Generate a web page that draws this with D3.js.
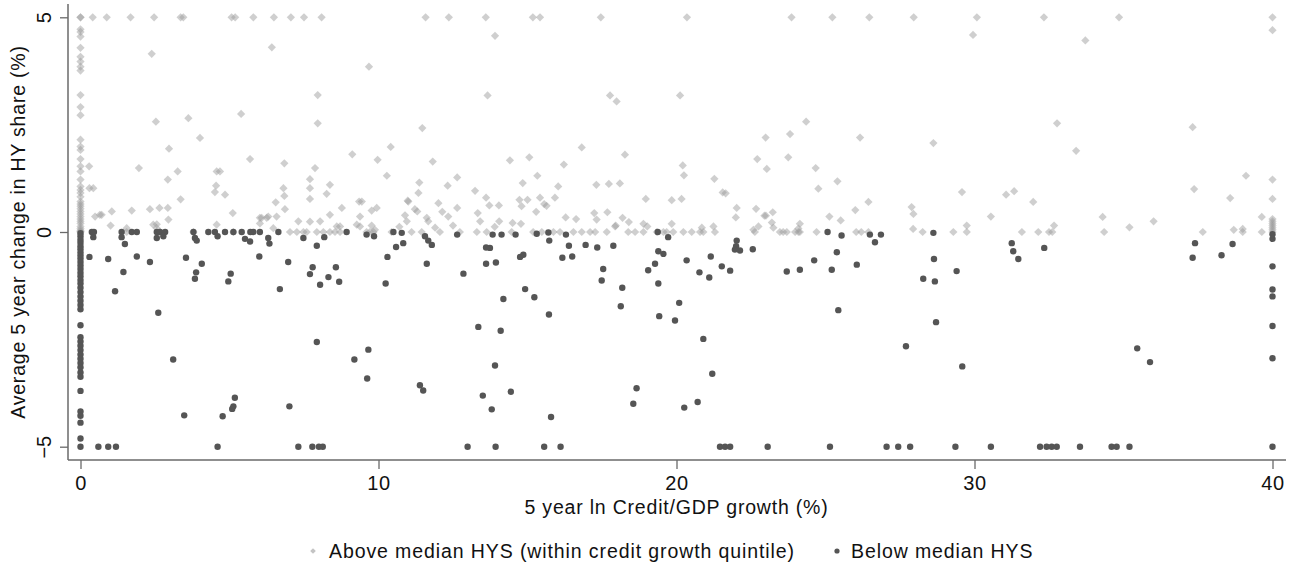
<!DOCTYPE html>
<html>
<head>
<meta charset="utf-8">
<script src="https://cdn.jsdelivr.net/npm/d3@7"></script>
<style>
  body { margin: 0; background: #fff; }
  text { font-family: "Liberation Sans", Arial, sans-serif; fill: #111; }
</style>
</head>
<body>
<script>
// Above median HYS (within credit growth quintile): [credit growth, change in HY share]
var abovePts = [
  // x = 0 column
  [0,5],[0,5],[0,4.72],[0,4.66],[0,4.55],[0,4.29],[0,4.08],[0,3.97],[0,3.85],[0,3.76],[0,3.19],[0,2.91],
  [0,2.72],[0,2.15],[0,1.99],[0,1.91],[0,1.7],[0,1.53],[0,1.41],[0,1.22],[0,1.06],[0,0.98],[0,0.91],
  [0,0.82],[0,0.71],[0,0.65],[0,0.6],[0,0.54],[0,0.48],[0,0.42],[0,0.36],[0,0.3],[0,0.25],[0,0.2],
  [0,0.13],[0,0.08],[0,0.04],[0,0.01],[0,0],
  // top row (capped at 5)
  [0.41,5],[0.88,5],[1.68,5],[2.47,5],[3.36,5],[3.45,5],[5.07,5],[5.19,5],[5.8,5],[6.49,5],[7.06,5],
  [7.5,5],[8.09,5],[11.58,5],[12.36,5],[13.6,5],[15.18,5],[15.42,5],[17.46,5],[20.35,5],[23.86,5],
  [25.23,5],[26.47,5],[27.96,5],[30.08,5],[32.33,5],[34.85,5],[40,5],
  // 0 - 11
  [2.39,4.15],[6.42,4.3],[9.68,3.85],[7.96,3.19],[7.96,2.53],[5.39,2.75],[2.53,2.57],[3.62,2.65],
  [4.01,2.19],[10.41,1.98],[9.12,1.81],[2.97,1.94],[5.69,1.7],[6.84,1.6],[9.97,1.68],[0.29,1.53],
  [1.96,1.49],[3.26,1.41],[4.57,1.41],[4.68,1.41],[7.87,1.49],[2.93,1.22],[7.7,1.23],[10.28,1.31],
  [4.55,1.08],[0.3,1.02],[0.43,1.02],[6.81,1.02],[7.7,1.02],[8.37,1.1],[4.51,0.93],[4.85,0.87],
  [6.84,0.84],[8.26,0.89],[3.36,0.76],[7.7,0.77],[9.35,0.71],[9.44,0.71],[6.55,0.69],[9.94,0.56],
  [9.77,0.5],[1.05,0.48],[1.72,0.5],[2.33,0.53],[2.65,0.56],[2.93,0.56],[0.49,0.36],[0.65,0.4],
  [0.71,0.4],[5.11,0.44],[8.37,0.4],[8.77,0.56],[9.38,0.36],[6.86,0.53],[6.02,0.33],[6.25,0.33],
  [6.08,0.33],[6.3,0.36],[6.58,0.36],[1.01,0.15],[2.95,0.29],[2.56,0.18],[1.55,0.09],[4.57,0.17],
  [2.44,0.17],[2.56,0.09],[7.31,0.25],[8.04,0.25],[7.7,0.24],[8.6,0.13],[8.71,0.13],[9.27,0.17],
  [9.38,0.13],[9.77,0.15],[9.88,0.05],[6.47,0.09],[6.02,0.2],
  [1.55,0],[2.67,0],[3.79,0],[5.13,0],[7.03,0],[7.26,0],[7.48,0],[7.59,0],[7.93,0],[8.15,0],[8.37,0],
  [8.54,0],[8.71,0],[9.6,0],[9.71,0],[9.83,0],[10.44,0],
  // 11 - 26
  [13.91,4.57],[13.66,3.18],[17.77,3.18],[17.99,3.04],[20.12,3.18],[11.47,2.42],[24.35,2.57],
  [23.81,2.28],[22.99,2.2],[23.75,1.74],[23.03,1.47],[22.71,1.7],[11.82,1.64],[16.82,1.97],
  [18.27,1.8],[20.21,1.55],[20.25,1.32],[24.67,1.49],[25.4,1.18],[24.76,1.01],[14.41,1.67],
  [15.06,1.74],[16.22,1.57],[11.37,1.15],[12.64,1.27],[12.32,1.08],[14.84,1.14],[15.33,1.31],
  [16.03,1.06],[17.31,1.1],[17.73,1.12],[18.1,1.13],[21.27,1.24],[21.55,0.92],[21.65,0.9],
  [22.02,0.56],[21.99,0.34],[18.97,0.77],[19.84,0.74],[20.17,0.77],[22.67,0.54],[23.23,0.46],
  [22.95,0.38],[25.13,0.36],[25.51,0.27],[11.0,0.71],[11.34,0.91],[12.01,0.67],[12.14,0.47],
  [12.34,0.36],[13.24,0.96],[13.33,0.44],[13.61,0.8],[13.72,0.62],[14.04,0.62],[14.73,0.75],
  [14.8,0.6],[15.0,0.75],[15.29,0.47],[15.42,0.8],[15.56,0.65],[15.64,0.61],[15.92,0.8],[16.28,0.34],
  [16.63,0.3],[17.24,0.44],[17.32,0.29],[17.68,0.46],[18.19,0.33],[18.4,0.23],[17.94,0.13],
  [18.89,0.19],[19.02,0.13],[19.84,0.19],[21.24,0.13],[22.58,0.05],[22.75,0.13],[24.14,0.19],
  [24.09,0.08],[10.98,0.73],[11.22,0.53],[11.3,0.48],[10.89,0.39],[10.95,0.25],[11.62,0.33],
  [11.67,0.25],[12.64,0.56],[13.41,0.25],[14.05,0.25],[14.5,0.21],[14.78,0.19],[17.96,0.15],
  [23.0,0.38],[23.2,0.22],[23.25,0.1],[20.85,0.1],[10.7,0.12],[11.9,0.1],[12.5,0.15],[13.9,0.12],
  [11.11,0],[11.45,0],[12.06,0],[12.73,0],[13.3,0],[13.63,0],[14.47,0],[15.19,0],[15.48,0],
  [15.87,0],[16.09,0],[16.54,0],[16.82,0],[17.1,0],[17.27,0],[17.66,0],[18.38,0],[18.61,0],
  [18.89,0],[19.34,0],[19.56,0],[19.67,0],[19.89,0],[20.23,0],[20.51,0],[20.79,0],[20.9,0],
  [21.29,0],[22.63,0],[23.47,0],[23.58,0],[23.7,0],[23.98,0],[24.09,0],[24.14,0],[24.7,0],
  // 26 - 40
  [29.95,4.59],[33.72,4.46],[26.16,2.2],[28.62,2.07],[32.77,2.53],[33.41,1.89],[37.32,2.44],
  [40,4.7],[39.11,1.31],[40,1.22],[40,0.77],[37.37,1.0],[38.58,0.79],[29.58,0.93],[31.06,0.87],
  [31.33,0.95],[31.97,0.7],[26.44,0.7],[26.0,0.51],[27.89,0.58],[27.95,0.42],[30.55,0.36],
  [29.74,0.15],[32.67,0.15],[34.3,0.35],[35.2,0.11],[36.01,0.25],[39.64,0.35],[40,0.3],[40,0.25],
  [40,0.2],[40,0.15],[40,0.1],[40,0.05],[38.7,0.05],[39.0,0.07],[27.94,0.07],
  [26.03,0],[26.2,0],[26.44,0],[28.26,0],[29.29,0],[29.74,0],[31.59,0],[32.14,0],[32.5,0],
  [32.61,0],[34.35,0],[37.66,0],[39.0,0],[39.64,0],[40,0]
];

// Below median HYS
var belowPts = [
  // x = 0 column
  [0,-0.03],[0,-0.1],[0,-0.18],[0,-0.25],[0,-0.33],[0,-0.4],[0,-0.48],[0,-0.55],[0,-0.62],[0,-0.7],
  [0,-0.78],[0,-0.86],[0,-0.95],[0,-1.03],[0,-1.12],[0,-1.2],[0,-1.3],[0,-1.4],[0,-1.5],[0,-1.6],
  [0,-1.7],[0,-1.8],[0,-2.17],[0,-2.45],[0,-2.55],[0,-2.65],[0,-2.75],[0,-2.85],[0,-2.95],[0,-3.05],
  [0,-3.15],[0,-3.27],[0,-3.37],[0,-3.7],[0,-4.18],[0,-4.28],[0,-4.44],[0,-4.81],[0,-5],
  // 0 - 11
  [0.3,-0.58],[0.93,-0.63],[1.16,-1.38],[1.44,-0.93],[1.89,-0.57],[2.33,-0.7],[2.61,-1.88],
  [3.11,-2.97],[3.48,-4.27],[3.54,-0.6],[3.84,-1.09],[3.88,-0.94],[4.07,-0.74],[4.77,-4.29],
  [4.96,-1.15],[5.04,-0.97],[5.09,-4.12],[5.13,-4.06],[5.18,-3.86],[6.0,-0.57],[6.69,-1.33],
  [6.97,-0.7],[7.01,-4.06],[7.7,-0.98],[7.79,-0.82],[7.93,-2.56],[8.04,-1.23],[8.32,-1.05],
  [8.57,-0.82],[8.68,-1.16],[9.19,-2.97],[9.66,-2.74],[9.62,-3.41],[10.24,-1.2],[10.3,-0.58],
  [0.6,-5],[0.93,-5],[1.19,-5],[4.6,-5],[7.31,-5],[7.78,-5],[8.0,-5],[8.13,-5],
  [0.38,0],[0.45,0],[1.38,0],[1.72,0],[1.89,0],[2.56,0],[2.67,0],[2.84,0],[3.79,0],[4.29,0],
  [4.51,0],[4.85,0],[5.13,0],[5.41,0],[5.8,0],[6.02,0],[6.64,0],[8.93,0],[0.43,-0.12],[1.38,-0.12],
  [2.56,-0.14],[2.78,-0.1],[3.84,-0.14],[1.49,-0.28],[5.52,-0.16],[5.69,-0.22],[6.3,-0.14],
  [6.34,-0.27],[7.48,-0.14],[7.93,-0.32],[8.18,-0.12],[9.6,-0.06],[9.85,-0.1],[10.5,0],[10.78,-0.02],
  [10.83,-0.26],[10.59,-0.35],[3.9,-0.2],[5.7,0],[4.6,-0.1],
  // 11 - 26
  [11.56,-0.1],[11.67,-0.2],[11.79,-0.3],[12.64,-0.06],[13.61,-0.36],[13.74,-0.37],[13.83,-0.06],
  [14.13,-0.06],[14.6,-0.06],[15.31,-0.04],[15.7,-0.01],[15.73,-0.2],[16.29,-0.06],[16.39,-0.32],
  [16.95,-0.3],[17.34,-0.36],[17.88,-0.32],[19.37,0],[19.72,-0.12],[19.39,-0.45],[19.56,-0.51],
  [22.02,-0.2],[22.0,-0.33],[21.96,-0.41],[22.13,-0.43],[22.56,-0.4],[25.07,0],[25.54,-0.08],
  [26.49,-0.06],[26.66,-0.24],[26.86,-0.06],[28.62,-0.02],
  [11.62,-0.74],[12.85,-0.97],[13.61,-0.74],[13.94,-0.71],[14.75,-0.58],[14.86,-0.53],[16.17,-0.6],
  [16.5,-0.57],[14.19,-1.56],[14.92,-1.33],[15.23,-1.52],[15.72,-1.92],[13.35,-2.21],[14.1,-2.3],
  [13.91,-3.11],[11.39,-3.57],[11.5,-3.69],[13.5,-3.81],[13.8,-4.13],[14.44,-3.72],[15.79,-4.31],
  [17.54,-0.86],[17.49,-1.13],[18.18,-1.3],[18.13,-1.73],[19.05,-0.89],[19.28,-0.74],[19.39,-1.2],
  [19.42,-1.96],[19.95,-2.06],[20.09,-1.65],[20.34,-0.66],[20.77,-0.94],[21.1,-1.06],[21.15,-0.57],
  [21.52,-0.8],[21.8,-0.9],[20.9,-2.49],[21.2,-3.3],[18.55,-4.0],[18.66,-3.64],[20.26,-4.09],
  [20.71,-3.96],[23.7,-0.92],[24.14,-0.88],[24.62,-0.66],[25.21,-0.88],[25.43,-1.82],[25.38,-0.47],
  [12.99,-5],[13.93,-5],[15.56,-5],[16.11,-5],[21.46,-5],[21.63,-5],[21.8,-5],[23.06,-5],[25.15,-5],
  // 26 - 40
  [26.05,-0.76],[28.64,-0.63],[28.67,-1.15],[28.71,-2.1],[28.28,-1.09],[29.4,-0.91],[27.7,-2.66],
  [29.59,-3.13],[31.25,-0.26],[31.3,-0.45],[31.47,-0.63],[32.34,-0.37],[37.4,-0.26],[37.32,-0.6],
  [38.29,-0.54],[38.66,-0.28],[40,-0.05],[40,-0.16],[40,-0.8],[40,-1.34],[40,-1.5],[40,-2.19],
  [40,-2.94],[35.46,-2.71],[35.89,-3.03],
  [27.05,-5],[27.44,-5],[27.84,-5],[29.36,-5],[30.55,-5],[32.2,-5],[32.42,-5],[32.59,-5],[32.76,-5],
  [33.54,-5],[34.6,-5],[34.77,-5],[35.2,-5],[40,-5]
];

var xTicks = [0, 10, 20, 30, 40];
var yTicks = [-5, 0, 5];
var xTitle = "5 year ln Credit/GDP growth (%)";
var yTitle = "Average 5 year change in HY share (%)";
var legendLabels = ["Above median HYS (within credit growth quintile)", "Below median HYS"];

var width = 1294, height = 564;

var svg = d3.select("body").append("svg")
  .attr("width", width)
  .attr("height", height);

var x = d3.scaleLinear().domain([0, 40]).range([80.5, 1272.5]);
var y = d3.scaleLinear().domain([-5, 5]).range([446.7, 17.3]);

var axisX = 68, axisY = 460;
var axisColor = "#6a6a6a";

// axis lines (Stata style: only left and bottom)
svg.append("line")
  .attr("x1", axisX).attr("x2", axisX)
  .attr("y1", 4).attr("y2", axisY)
  .attr("stroke", axisColor).attr("stroke-width", 1.5);
svg.append("line")
  .attr("x1", axisX).attr("x2", 1286)
  .attr("y1", axisY).attr("y2", axisY)
  .attr("stroke", axisColor).attr("stroke-width", 1.5);

var gx = svg.append("g")
  .attr("transform", "translate(0," + axisY + ")")
  .call(d3.axisBottom(x).tickValues(xTicks).tickSize(9).tickPadding(7).tickFormat(d3.format("d")));
gx.select(".domain").remove();
gx.selectAll(".tick line").attr("stroke", axisColor).attr("stroke-width", 1.3);
gx.selectAll(".tick text")
  .style("font-family", "Liberation Sans, Arial, sans-serif")
  .style("font-size", "20px").style("letter-spacing", "0.6px").attr("fill", "#111");

var gy = svg.append("g")
  .attr("transform", "translate(" + axisX + ",0)")
  .call(d3.axisLeft(y).tickValues(yTicks).tickSize(8).tickFormat(d3.format("d")));
gy.select(".domain").remove();
gy.selectAll(".tick line").attr("stroke", axisColor).attr("stroke-width", 1.3);
gy.selectAll(".tick text")
  .attr("x", null).attr("dy", null)
  .attr("text-anchor", "middle")
  .attr("transform", "translate(-24,0) rotate(-90)")
  .attr("y", 0)
  .attr("dy", "0.35em")
  .style("font-family", "Liberation Sans, Arial, sans-serif")
  .style("font-size", "20px").attr("fill", "#111");

// points
var diamond = d3.symbol().type(d3.symbolSquare).size(34);

svg.append("g").selectAll("path")
  .data(abovePts)
  .enter().append("path")
  .attr("d", diamond)
  .attr("transform", function(d) { return "translate(" + x(d[0]) + "," + y(d[1]) + ") rotate(45)"; })
  .attr("fill", "#9a9a9a")
  .attr("fill-opacity", 0.48);

svg.append("g").selectAll("circle")
  .data(belowPts)
  .enter().append("circle")
  .attr("cx", function(d) { return x(d[0]); })
  .attr("cy", function(d) { return y(d[1]); })
  .attr("r", 3.2)
  .attr("fill", "#555");

// titles
svg.append("text")
  .attr("x", (x(0) + x(40)) / 2)
  .attr("y", 514)
  .attr("text-anchor", "middle")
  .style("font-size", "19.5px")
  .style("letter-spacing", "0.8px")
  .text(xTitle);

svg.append("text")
  .attr("transform", "translate(25," + y(0) + ") rotate(-90)")
  .attr("text-anchor", "middle")
  .style("font-size", "19.5px")
  .style("letter-spacing", "0.8px")
  .text(yTitle);

// legend
var leg = svg.append("g");
leg.append("path")
  .attr("d", d3.symbol().type(d3.symbolSquare).size(16))
  .attr("transform", "translate(313,551) rotate(45)")
  .attr("fill", "#c4c4c4");
leg.append("text")
  .attr("x", 329).attr("y", 558)
  .style("font-size", "19.5px")
  .style("letter-spacing", "0.9px")
  .text(legendLabels[0]);
leg.append("circle")
  .attr("cx", 837).attr("cy", 551).attr("r", 2.6)
  .attr("fill", "#555");
leg.append("text")
  .attr("x", 851).attr("y", 558)
  .style("font-size", "19.5px")
  .style("letter-spacing", "0.9px")
  .text(legendLabels[1]);
</script>
</body>
</html>
